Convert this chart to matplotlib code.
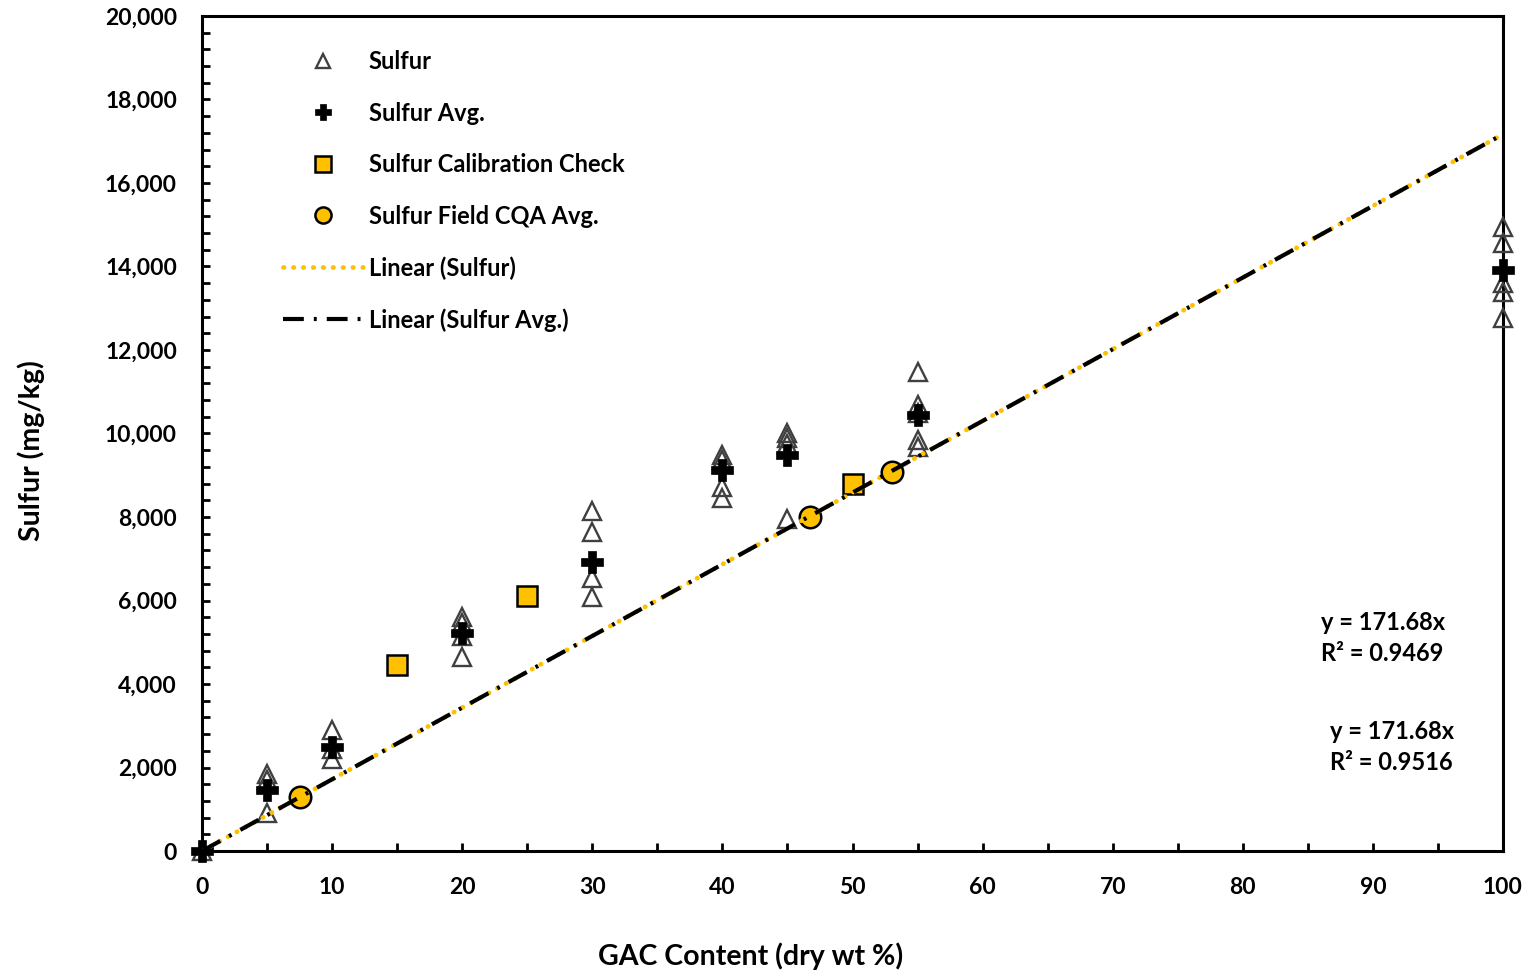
import matplotlib
matplotlib.use('Agg')
import matplotlib.pyplot as plt
import numpy as np
from matplotlib.ticker import MultipleLocator, StrMethodFormatter

plt.rcParams['font.family'] = ['Lato', 'DejaVu Sans']
plt.rcParams['font.weight'] = 'bold'

# Individual sulfur results (GAC %, mg/kg)
sulfur_x = [0, 5, 5, 5, 10, 10, 10, 20, 20, 20, 20, 30, 30, 30, 30,
            40, 40, 40, 40, 45, 45, 45, 45, 55, 55, 55, 55, 55,
            100, 100, 100, 100, 100]
sulfur_y = [0, 1850, 1700, 900, 2900, 2450, 2200, 5600, 5450, 5150, 4650,
            8150, 7650, 6550, 6080, 9480, 9370, 8720, 8460,
            10000, 9900, 9750, 7960, 11470, 10680, 10500, 9840, 9680,
            14950, 14560, 13600, 13390, 12770]

# Averages
avg_x = [0, 5, 10, 20, 30, 40, 45, 55, 100]
avg_y = [0, 1450, 2480, 5220, 6920, 9130, 9480, 10440, 13920]

# Calibration check
cal_x = [15, 25, 50]
cal_y = [4450, 6110, 8780]

# Field CQA averages
cqa_x = [7.5, 46.7, 53.0]
cqa_y = [1290, 8010, 9080]

# Trendlines (forced through origin)
slope_sulfur = 171.68
slope_avg = 171.68
r2_sulfur = 0.9469
r2_avg = 0.9516

gold = '#FFC000'

fig = plt.figure(figsize=(15.29, 9.72), dpi=100)
ax = fig.add_axes([202/1529, 1 - 851/972, 1301/1529, 835/972])

ax.plot(sulfur_x, sulfur_y, '^', ms=13, mfc='none', mec='#404040', mew=1.7,
        label='Sulfur', clip_on=False, zorder=3)
ax.plot(avg_x, avg_y, 'P', ms=16, mfc='black', mec='black', mew=0.5,
        label='Sulfur Avg.', clip_on=False, zorder=4)
ax.plot(cal_x, cal_y, 's', ms=15, mfc=gold, mec='black', mew=1.8,
        label='Sulfur Calibration Check', zorder=3)
ax.plot(cqa_x, cqa_y, 'o', ms=15.5, mfc=gold, mec='black', mew=1.8,
        label='Sulfur Field CQA Avg.', zorder=3)

xt = np.array([0, 100])
ax.plot(xt, slope_sulfur * xt, color=gold, lw=3.4, linestyle=(0, (0.1, 2.0)),
        dash_capstyle='round', label='Linear (Sulfur)', zorder=5)
ax.plot(xt, slope_avg * xt, color='black', lw=3.0,
        linestyle=(0, (5.0, 2.4, 0.7, 2.4)), label='Linear (Sulfur Avg.)', zorder=6)

ax.set_xlim(0, 100)
ax.set_ylim(0, 20000)
ax.xaxis.set_major_locator(MultipleLocator(10))
ax.xaxis.set_minor_locator(MultipleLocator(5))
ax.yaxis.set_major_locator(MultipleLocator(2000))
ax.yaxis.set_minor_locator(MultipleLocator(400))
ax.yaxis.set_major_formatter(StrMethodFormatter('{x:,.0f}'))

ax.tick_params(which='both', direction='in', width=2, length=6,
               top=False, right=False, labelsize=16.5)
ax.tick_params(axis='x', which='major', pad=19)
ax.tick_params(axis='y', which='major', pad=18)
for s in ax.spines.values():
    s.set_linewidth(2.2)

ax.set_xlabel('GAC Content (dry wt %)', fontsize=20.5, fontweight='bold')
ax.set_ylabel('Sulfur (mg/kg)', fontsize=20.5, fontweight='bold')
ax.xaxis.set_label_coords(0.422, -0.110)
ax.yaxis.set_label_coords(-0.121, 0.480)

ax.text(0.860, 0.255, f'y = {slope_sulfur:.2f}x\nR\u00b2 = {r2_sulfur:.4f}',
        transform=ax.transAxes, fontsize=17, fontweight='bold', va='center',
        linespacing=1.4)
ax.text(0.867, 0.1245, f'y = {slope_avg:.2f}x\nR\u00b2 = {r2_avg:.4f}',
        transform=ax.transAxes, fontsize=17, fontweight='bold', va='center',
        linespacing=1.4)

ax.legend(loc='upper left', bbox_to_anchor=(0.0623, 0.959), frameon=False,
          fontsize=17, numpoints=1, markerscale=0.75, handlelength=3.4,
          handletextpad=0.22, labelspacing=1.205, borderpad=0, borderaxespad=0)

fig.savefig('out.png', dpi=100, facecolor='white')
